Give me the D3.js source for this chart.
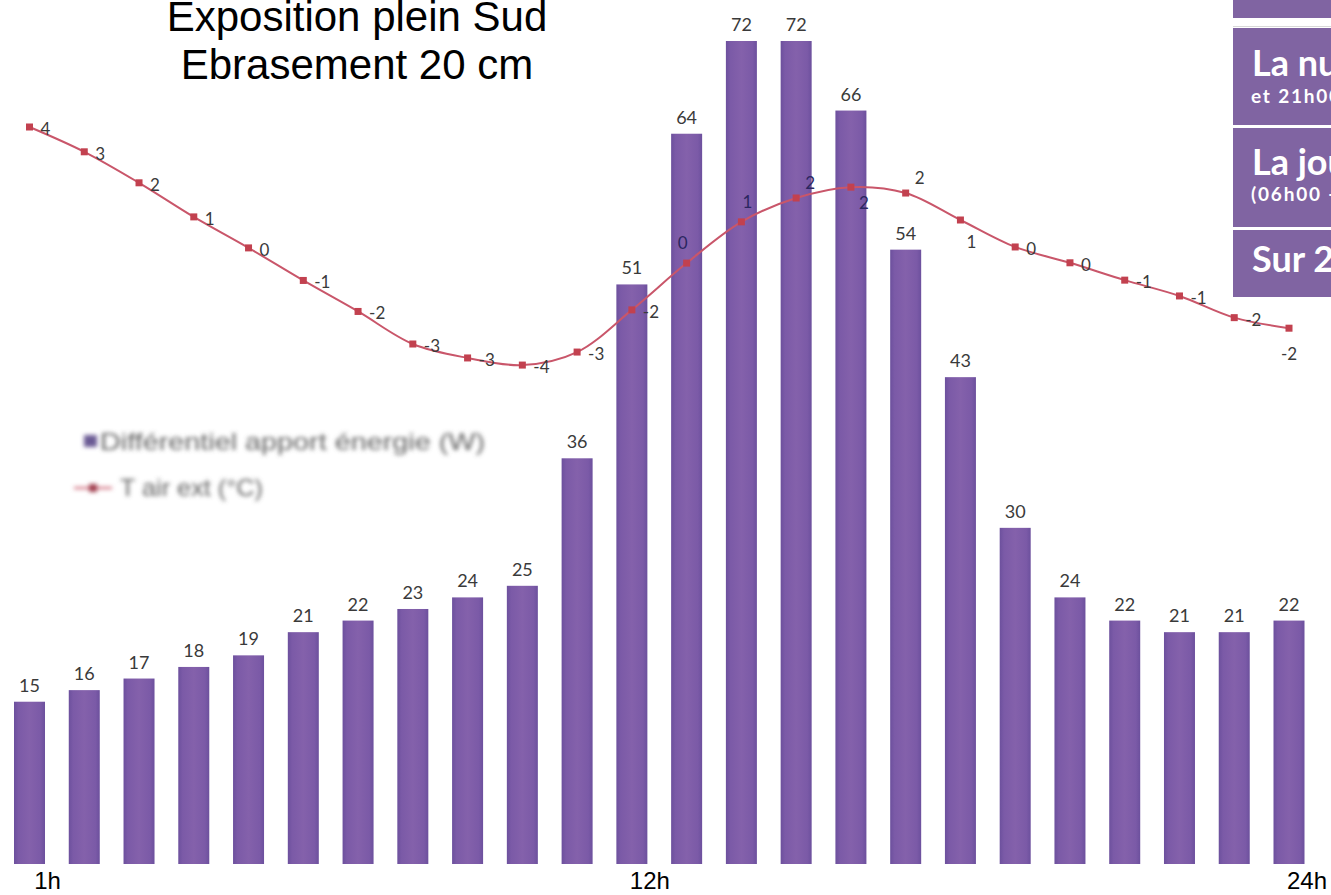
<!DOCTYPE html>
<html>
<head>
<meta charset="utf-8">
<script src="https://cdn.jsdelivr.net/npm/d3@7"></script>
<style>
  html, body { margin: 0; padding: 0; background: #ffffff; overflow: hidden; }
  svg { display: block; }
</style>
</head>
<body>
<svg id="chart" width="1331" height="895"></svg>
<script>
// Hourly data over one day
const hours = [1, 2, 3, 4, 5, 6, 7, 8, 9, 10, 11, 12, 13, 14, 15, 16, 17, 18, 19, 20, 21, 22, 23, 24];
// Différentiel apport énergie (W)
const apport = [15, 16, 17, 18, 19, 21, 22, 23, 24, 25, 36, 51, 64, 72, 72, 66, 54, 43, 30, 24, 22, 21, 21, 22];
// T air ext (°C)
const tAir = [4.0, 3.2, 2.2, 1.1, 0.1, -0.95, -1.95, -3.0, -3.45, -3.68, -3.26, -1.9,
              -0.39, 0.94, 1.71, 2.06, 1.87, 1.0, 0.13, -0.38, -0.94, -1.45, -2.15, -2.49];
// Where each temperature label sits relative to its marker
const tLabelSide = ["r", "r", "r", "r", "r", "r", "r", "r", "r", "r", "r", "r",
                    "tl", "t", "tr", "br", "tr", "b", "r", "r", "r", "r", "r", "bb"];
// Hour labels under the bars
const hourTicks = [1, 12, 24];
// Title lines
const titleLines = ["Exposition plein Sud", "Ebrasement 20 cm"];
// Legend entries
const legendItems = ["Différentiel apport énergie (W)", "T air ext (°C)"];
// Summary panel on the right
const panelRows = [
  { title: "", sub: "" },
  { title: "La nuit", sub: "et 21h00 - 24h00)" },
  { title: "La journée", sub: "(06h00 - 21h00)" },
  { title: "Sur 24h", sub: "" }
];

const svg = d3.select("#chart");

const x = d3.scalePoint().domain(hours).range([29.5, 1289]);
const barW = 31;
const yBar = d3.scaleLinear().domain([1, 72]).range([864, 41]);
const yT = d3.scaleLinear().domain([-4, 4]).range([375, 127]);

// bar shading
const defs = svg.append("defs");
const grad = defs.append("linearGradient").attr("id", "barGrad")
  .attr("x1", "0%").attr("x2", "100%").attr("y1", "0%").attr("y2", "0%");
[["0%", "#6c509d"], ["14%", "#7b5aa7"], ["50%", "#8461ab"], ["86%", "#7b5aa7"], ["100%", "#6c509d"]]
  .forEach(([o, c]) => grad.append("stop").attr("offset", o).attr("stop-color", c));

const blur = defs.append("filter").attr("id", "soft")
  .attr("x", "-10%").attr("y", "-30%").attr("width", "120%").attr("height", "160%");
blur.append("feGaussianBlur").attr("stdDeviation", 2);

// Bars
svg.append("g").selectAll("rect").data(hours).join("rect")
  .attr("x", (h) => x(h) - barW / 2)
  .attr("y", (h, i) => yBar(apport[i]))
  .attr("width", barW)
  .attr("height", (h, i) => yBar(1) - yBar(apport[i]))
  .attr("fill", "url(#barGrad)");

// Bar value labels
svg.append("g").selectAll("text").data(hours).join("text")
  .attr("x", (h) => x(h))
  .attr("y", (h, i) => yBar(apport[i]) - 10)
  .attr("text-anchor", "middle")
  .attr("font-family", "Lato, 'Noto Sans', sans-serif")
  .attr("font-size", 18)
  .attr("fill", "#3a3a3a")
  .text((h, i) => apport[i]);

// Temperature curve
const line = d3.line()
  .x((d, i) => x(hours[i]))
  .y((d) => yT(d))
  .curve(d3.curveCatmullRom.alpha(0.5));

svg.append("path").datum(tAir)
  .attr("d", line)
  .attr("fill", "none")
  .attr("stroke", "#c9566a")
  .attr("stroke-width", 2);

svg.append("g").selectAll("rect").data(tAir).join("rect")
  .attr("x", (d, i) => x(hours[i]) - 3.5)
  .attr("y", (d) => yT(d) - 3.5)
  .attr("width", 7)
  .attr("height", 7)
  .attr("fill", "#c2414f");

// Temperature labels
const side = {
  r:  { dx: 11, dy: 2, anchor: "start" },
  tl: { dx: -4, dy: -20, anchor: "middle" },
  t:  { dx: 6, dy: -20, anchor: "middle" },
  tr: { dx: 14, dy: -15, anchor: "middle" },
  br: { dx: 13, dy: 16, anchor: "middle" },
  b:  { dx: 11, dy: 22, anchor: "middle" },
  bb: { dx: 0, dy: 26, anchor: "middle" }
};
const fmtT = (v) => String(Math.round(v) || 0);

svg.append("g").selectAll("text").data(tAir).join("text")
  .attr("x", (d, i) => x(hours[i]) + side[tLabelSide[i]].dx)
  .attr("y", (d, i) => yT(d) + side[tLabelSide[i]].dy)
  .attr("dy", "0.35em")
  .attr("text-anchor", (d, i) => side[tLabelSide[i]].anchor)
  .attr("font-family", "Lato, 'Noto Sans', sans-serif")
  .attr("font-size", 17)
  .attr("fill", (d, i) => (i >= 12 && i <= 15) ? "#2b2660" : "#3a3a3a")
  .text((d) => fmtT(d));

// Hour labels
svg.append("g").selectAll("text").data(hourTicks).join("text")
  .attr("x", (h) => x(h) + 18)
  .attr("y", 889)
  .attr("text-anchor", "middle")
  .attr("font-family", "'Liberation Sans', Arial, sans-serif")
  .attr("font-size", 24)
  .attr("fill", "#000")
  .text((h) => h + "h");

// Title
svg.append("g").selectAll("text").data(titleLines).join("text")
  .attr("x", 357)
  .attr("y", (d, i) => 31 + i * 48)
  .attr("text-anchor", "middle")
  .attr("font-family", "'Liberation Sans', Arial, sans-serif")
  .attr("font-size", 42)
  .attr("fill", "#000")
  .text((d) => d);

// Legend (soft, low-resolution look)
const leg = svg.append("g").attr("filter", "url(#soft)");
leg.append("rect").attr("x", 84).attr("y", 435).attr("width", 13).attr("height", 12)
  .attr("fill", "#6a5a94");
leg.append("line").attr("x1", 74).attr("x2", 112).attr("y1", 488).attr("y2", 488)
  .attr("stroke", "#c9566a").attr("stroke-width", 2);
leg.append("rect").attr("x", 89).attr("y", 484).attr("width", 8).attr("height", 8)
  .attr("fill", "#a0404f");
leg.selectAll("text").data(legendItems).join("text")
  .attr("x", (d, i) => i === 0 ? 100 : 120)
  .attr("y", (d, i) => i === 0 ? 450 : 496)
  .attr("font-family", "'Liberation Sans', Arial, sans-serif")
  .attr("font-size", 24)
  .attr("textLength", (d, i) => i === 0 ? 385 : 143)
  .attr("lengthAdjust", "spacingAndGlyphs")
  .attr("fill", "#626262")
  .text((d) => d);

// Summary panel (runs past the right edge)
const rowBox = [[0, 18], [28, 125], [128, 227], [230, 297]];
const panel = svg.append("g");
panel.selectAll("rect").data(panelRows).join("rect")
  .attr("x", 1233)
  .attr("y", (d, i) => rowBox[i][0])
  .attr("width", 140)
  .attr("height", (d, i) => rowBox[i][1] - rowBox[i][0])
  .attr("fill", "#8064a2");
panel.append("line").attr("x1", 1233).attr("x2", 1331).attr("y1", 26.5).attr("y2", 26.5)
  .attr("stroke", "#d8d8d8").attr("stroke-width", 1);
const titleBase = [0, 76, 175, 272];
const subBase = [0, 103, 201, 0];
panel.selectAll("text.t").data(panelRows).join("text").attr("class", "t")
  .attr("x", 1252)
  .attr("y", (d, i) => titleBase[i])
  .attr("font-family", "Lato, 'Noto Sans', sans-serif")
  .attr("font-weight", "bold")
  .attr("font-size", 36)
  .attr("fill", "#ffffff")
  .text((d) => d.title);
panel.selectAll("text.s").data(panelRows).join("text").attr("class", "s")
  .attr("x", 1251)
  .attr("y", (d, i) => subBase[i])
  .attr("font-family", "Lato, 'Noto Sans', sans-serif")
  .attr("font-weight", "bold")
  .attr("font-size", 19)
  .attr("letter-spacing", 1.8)
  .attr("fill", "#ffffff")
  .text((d) => d.sub);
</script>
</body>
</html>
